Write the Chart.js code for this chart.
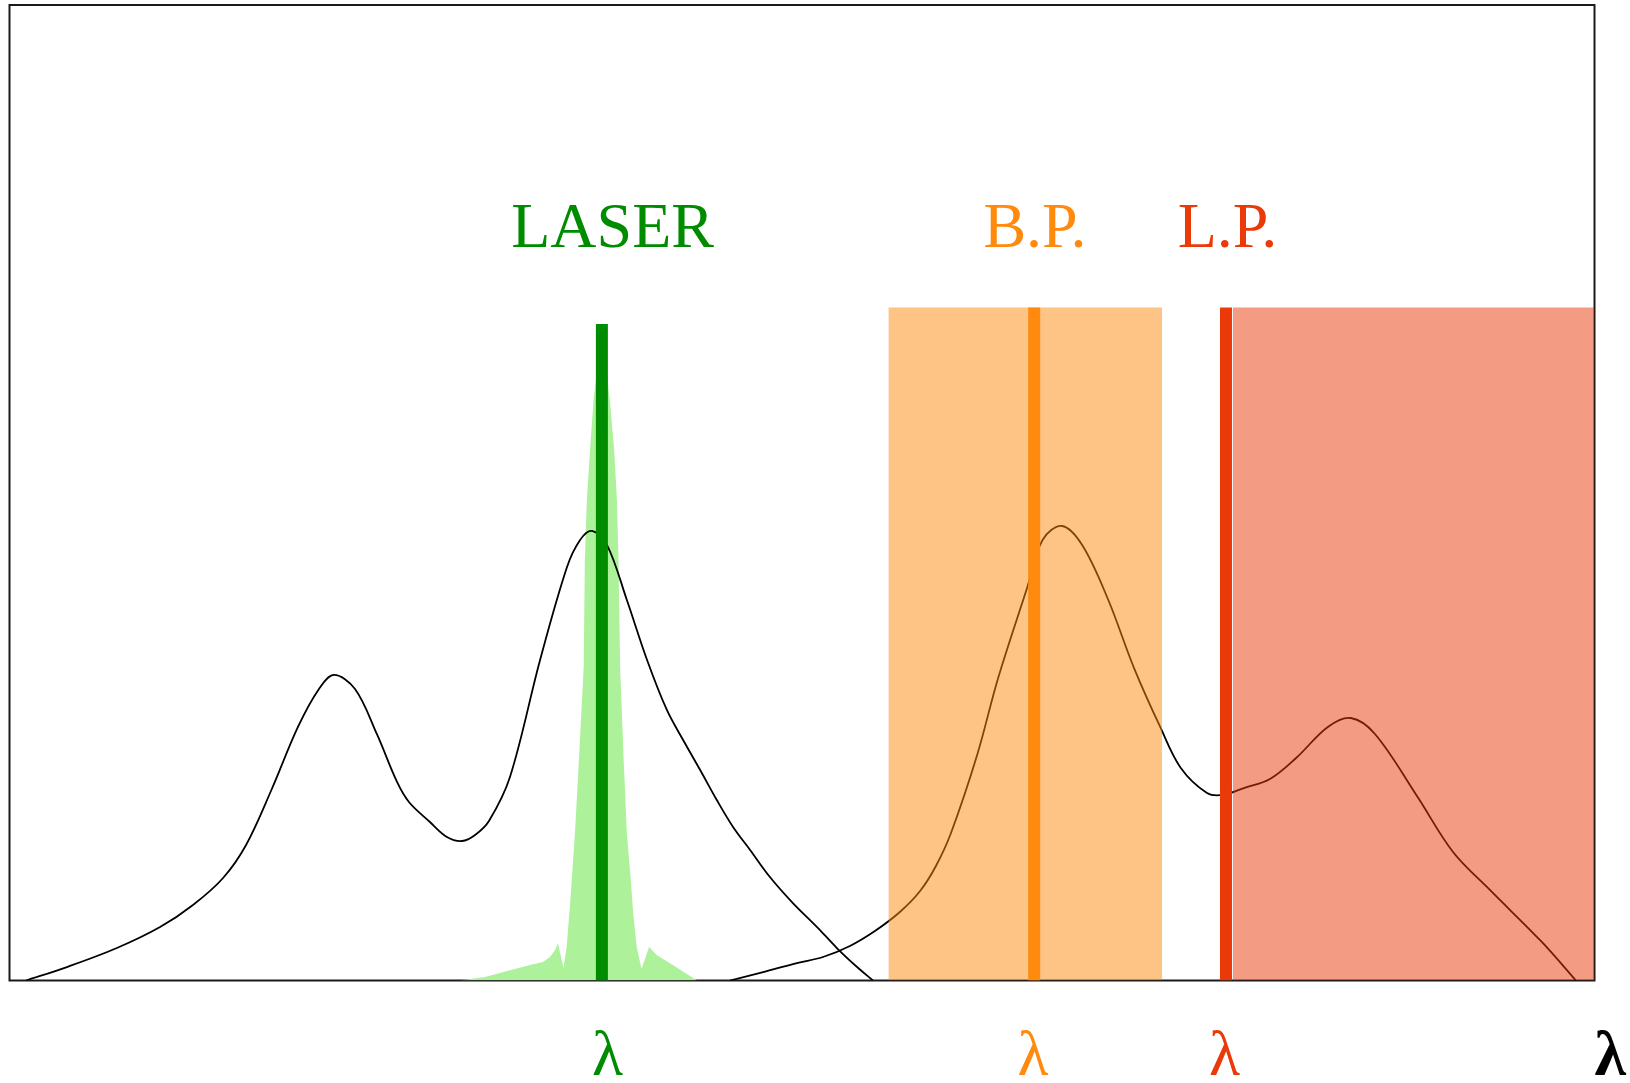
<!DOCTYPE html>
<html>
<head>
<meta charset="utf-8">
<title>Laser / filters</title>
<script src="https://cdn.jsdelivr.net/npm/chart.js@4.4.0/dist/chart.umd.min.js"></script>
<style>
  html, body { margin: 0; padding: 0; background: #fff; }
  #wrap { width: 1630px; height: 1083px; }
</style>
</head>
<body>
<div id="wrap"><canvas id="chart" width="1630" height="1083"></canvas></div>
<script>
/* ===== Data (wavelength in nm, intensity 0-100) ===== */

const curveA_x = [404.2, 414.5, 427.1, 438.0, 446.3, 453.9, 459.7, 466.2, 472.8, 478.1, 481.9, 487.2, 492.7, 497.8, 500.8, 506.1, 510.4, 514.2, 517.5, 521.0, 526.3, 533.9, 540.7, 544.0, 547.0, 550.8, 555.8, 560.9, 565.9, 570.0, 574.3, 578.5, 582.6, 586.9, 591.9, 597.7, 603.8, 608.8, 613.9, 617.9];
const curveA_y = [0, 1.38, 3.33, 5.48, 7.74, 10.51, 13.89, 19.63, 25.99, 29.88, 31.32, 29.88, 25.27, 20.35, 18.30, 16.25, 14.71, 14.30, 14.92, 16.35, 20.86, 32.86, 42.39, 45.16, 46.08, 44.64, 39.01, 32.86, 27.73, 24.65, 21.58, 18.50, 15.74, 13.38, 10.61, 7.94, 5.48, 3.33, 1.38, 0];

const curveB_x = [581.8, 590.2, 598.7, 605.3, 612.1, 618.4, 624.7, 629.8, 633.8, 637.6, 644.2, 649.5, 656.8, 660.7, 665.6, 670.7, 677.2, 683.8, 690.4, 695.6, 702.2, 706.2, 711.5, 718.1, 724.7, 732.7, 738.5, 744.6, 755.2, 764.3, 773.6, 786.7, 795.3];
const curveB_y = [0, 0.87, 1.79, 2.41, 3.54, 5.07, 7.02, 9.17, 11.74, 15.12, 23.12, 31.01, 40.24, 45.16, 46.59, 44.64, 39.11, 32.03, 25.99, 21.78, 19.22, 19.02, 19.73, 20.66, 22.81, 25.99, 26.91, 25.27, 18.91, 13.17, 9.28, 3.95, 0];

const laser_x = [513.7, 520.0, 525.6, 531.4, 534.6, 536.4, 537.7, 538.4, 539.8, 540.6, 541.6, 542.7, 543.7, 544.9, 545.2, 545.7, 546.5, 547.4, 549.5, 551.5, 552.6, 553.3, 553.7, 554.1, 555.0, 555.8, 556.8, 557.4, 558.3, 559.5, 561.4, 563.3, 567.4, 573.5];
const laser_y = [0, 0.36, 0.97, 1.59, 1.90, 2.41, 3.13, 3.84, 1.28, 3.43, 8.56, 15.12, 22.60, 32.14, 43.11, 49.26, 54.38, 59.51, 66.68, 59.51, 54.38, 49.26, 43.11, 32.14, 22.60, 15.12, 10.30, 6.92, 3.43, 1.18, 3.43, 2.61, 1.59, 0];

// laser line, band-pass centre, long-pass edge
const markerX = [549.5, 658.6, 707.0];
const markerTop = [67.3, 69.0, 69.0];

const bpBand = [621.8, 690.9];
const lpBand = [708.7, 800];
const bandTop = 69.0;

const topLabels = ["LASER", "B.P.", "L.P."];
const topLabelX = [552.2, 658.8, 707.4];
const topLabelY = 75.2;

const lambdaX = [550.9, 658.3, 706.6, 800];

/* ===== Colours ===== */

const GREEN = "#008c00";
const ORANGE = "#ff8a0d";
const RED = "#ea3a0a";
const markerColors = [GREEN, ORANGE, RED];
const lambdaColors = [GREEN, ORANGE, RED, "#000"];

function pts(xs, ys) {
  return xs.map((x, i) => ({ x: x, y: ys[i] }));
}

function vline(i) {
  return [{ x: markerX[i], y: 0 }, { x: markerX[i], y: markerTop[i] }];
}

function band(b) {
  return [{ x: b[0], y: bandTop }, { x: b[1], y: bandTop }];
}

/* ===== Plugins ===== */

const frame = {
  id: "frame",
  beforeDatasetsDraw(chart) {
    const { ctx, chartArea: a } = chart;
    ctx.save();
    ctx.strokeStyle = "#1a1a1a";
    ctx.lineWidth = 2;
    ctx.strokeRect(a.left, a.top, a.right - a.left, a.bottom - a.top);
    ctx.restore();
  }
};

const labels = {
  id: "labels",
  afterDatasetsDraw(chart) {
    const { ctx, chartArea, scales: { x, y } } = chart;
    ctx.save();
    ctx.textBaseline = "alphabetic";
    ctx.textAlign = "center";
    ctx.font = '64px "Liberation Serif"';
    topLabels.forEach((t, i) => {
      ctx.fillStyle = markerColors[i];
      ctx.fillText(t, x.getPixelForValue(topLabelX[i]), y.getPixelForValue(topLabelY));
    });

    const base = chartArea.bottom + 94.5;
    lambdaX.forEach((v, i) => {
      const last = i === lambdaX.length - 1;
      ctx.fillStyle = lambdaColors[i];
      ctx.font = (last ? "bold " : "") + '64px "Liberation Serif"';
      ctx.textAlign = last ? "left" : "center";
      ctx.fillText("λ", x.getPixelForValue(v), base);
    });
    ctx.restore();
  }
};

/* ===== Chart ===== */

const line = { pointRadius: 0, fill: false, tension: 0 };
const curve = { pointRadius: 0, fill: false, tension: 0.35, borderColor: "#000", borderWidth: 1.8, order: 6 };

new Chart(document.getElementById("chart"), {
  type: "line",
  data: {
    datasets: [
      { ...line, data: pts(laser_x, laser_y), borderWidth: 0, backgroundColor: "#adf29b", fill: "origin", order: 7 },
      { ...curve, data: pts(curveA_x, curveA_y) },
      { ...curve, data: pts(curveB_x, curveB_y) },
      { ...line, data: vline(0), borderColor: GREEN, borderWidth: 12, order: 5 },
      { ...line, data: band(bpBand), borderWidth: 0, backgroundColor: "rgba(253,138,14,0.5)", fill: "origin", order: 4 },
      { ...line, data: vline(1), borderColor: ORANGE, borderWidth: 12, order: 3 },
      { ...line, data: band(lpBand), borderWidth: 0, backgroundColor: "rgba(233,56,8,0.5)", fill: "origin", order: 2 },
      { ...line, data: vline(2), borderColor: RED, borderWidth: 12, order: 1 }
    ]
  },
  options: {
    responsive: false,
    devicePixelRatio: 1,
    animation: false,
    layout: { padding: { left: 9.5, right: 35.5, top: 5, bottom: 102.5 } },
    scales: {
      x: { type: "linear", min: 400, max: 800, display: false },
      y: { type: "linear", min: 0, max: 100, display: false }
    },
    plugins: {
      legend: { display: false },
      tooltip: { enabled: false }
    }
  },
  plugins: [frame, labels]
});
</script>
</body>
</html>
